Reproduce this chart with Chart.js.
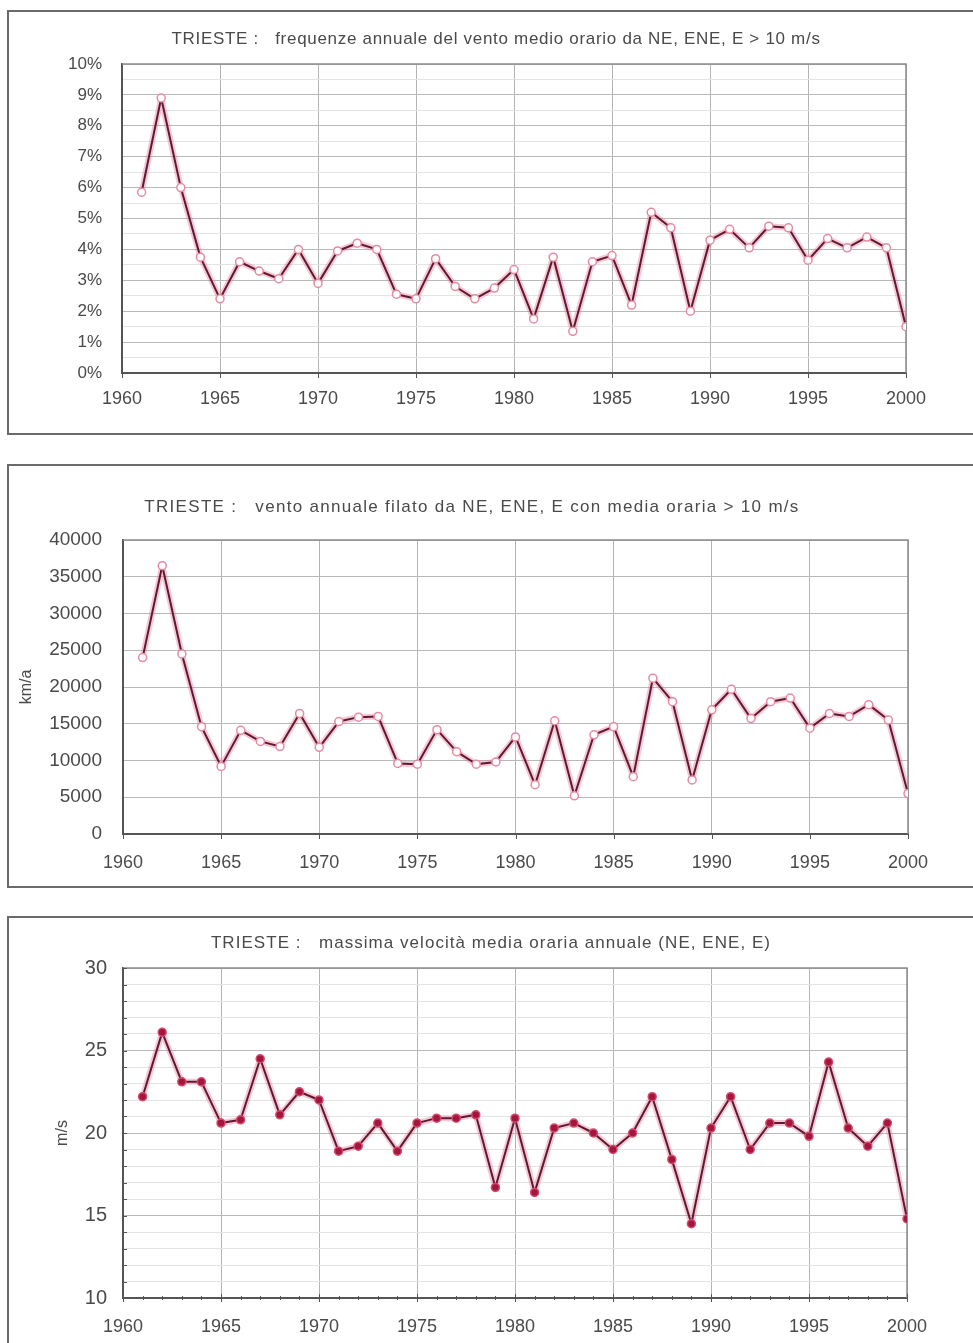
<!DOCTYPE html>
<html>
<head>
<meta charset="utf-8">
<script src="https://cdn.jsdelivr.net/npm/chart.js@4.4.1/dist/chart.umd.min.js"></script>
<style>
  html, body { margin: 0; padding: 0; background: #fff; }
  body { width: 973px; height: 1343px; position: relative; overflow: hidden; }
  .panel { position: absolute; left: 7px; width: 980px; box-sizing: border-box;
           border-top: 2px solid #6a6a6a; border-left: 2px solid #6a6a6a; border-bottom: 2px solid #6a6a6a; }
  canvas { position: absolute; left: 7px; }
</style>
</head>
<body>
<div class="panel" style="top:10px;height:425px"></div>
<div class="panel" style="top:464px;height:424px"></div>
<div class="panel" style="top:916px;height:440px"></div>
<canvas id="c1" style="top:10px"></canvas>
<canvas id="c2" style="top:465px"></canvas>
<canvas id="c3" style="top:917px"></canvas>
<script>
// Trieste, NE / ENE / E winds, yearly series 1961-2000
const years = [1961, 1962, 1963, 1964, 1965, 1966, 1967, 1968, 1969, 1970,
               1971, 1972, 1973, 1974, 1975, 1976, 1977, 1978, 1979, 1980,
               1981, 1982, 1983, 1984, 1985, 1986, 1987, 1988, 1989, 1990,
               1991, 1992, 1993, 1994, 1995, 1996, 1997, 1998, 1999, 2000];

// yearly frequency of hourly mean wind > 10 m/s (%)
const freqPct = [5.85, 8.9, 6.0, 3.75, 2.4, 3.6, 3.3, 3.05, 4.0, 2.9,
                 3.95, 4.2, 4.0, 2.55, 2.4, 3.7, 2.8, 2.4, 2.75, 3.35,
                 1.75, 3.75, 1.35, 3.6, 3.8, 2.2, 5.2, 4.7, 2.0, 4.3,
                 4.65, 4.05, 4.75, 4.7, 3.65, 4.35, 4.05, 4.4, 4.05, 1.5];

// yearly wind run with hourly mean > 10 m/s (km/a)
const windRunKm = [24000, 36500, 24500, 14600, 9200, 14100, 12600, 11900, 16400, 11800,
                   15300, 15900, 16000, 9600, 9500, 14200, 11200, 9500, 9800, 13200,
                   6700, 15400, 5200, 13500, 14600, 7800, 21200, 18000, 7350, 16900,
                   19700, 15700, 18000, 18500, 14400, 16400, 16000, 17600, 15500, 5500];

// yearly maximum hourly mean speed (m/s)
const maxSpeed = [22.2, 26.1, 23.1, 23.1, 20.6, 20.8, 24.5, 21.1, 22.5, 22.0,
                  18.9, 19.2, 20.6, 18.9, 20.6, 20.9, 20.9, 21.1, 16.7, 20.9,
                  16.4, 20.3, 20.6, 20.0, 19.0, 20.0, 22.2, 18.4, 14.5, 20.3,
                  22.2, 19.0, 20.6, 20.6, 19.8, 24.3, 20.3, 19.2, 20.6, 14.8];

const yearTicks = [1960, 1965, 1970, 1975, 1980, 1985, 1990, 1995, 2000];
const freqTicks = [0, 1, 2, 3, 4, 5, 6, 7, 8, 9, 10];
const runTicks = [0, 5000, 10000, 15000, 20000, 25000, 30000, 35000, 40000];
const speedTicks = [10, 15, 20, 25, 30];

const titles = [
  'TRIESTE :   frequenze annuale del vento medio orario da NE, ENE, E > 10 m/s',
  'TRIESTE :   vento annuale filato da NE, ENE, E con media oraria > 10 m/s',
  'TRIESTE :   massima velocità media oraria annuale (NE, ENE, E)'
];

const FONT = '"Liberation Sans", Arial, Helvetica, sans-serif';
const TEXT = '#4a4a4a';
const LINE = '#5e1a2e';
const HALO = 'rgba(232, 112, 150, 0.40)';

// heading text + plot frame + small tick marks
const decor = {
  id: 'decor',
  beforeDatasetsDraw(chart, args, o) {
    const { ctx, chartArea: a, scales } = chart;
    ctx.save();
    ctx.strokeStyle = '#8c8c8c';
    ctx.lineWidth = 1.5;
    ctx.beginPath();
    ctx.moveTo(a.left, a.top); ctx.lineTo(a.right, a.top); ctx.lineTo(a.right, a.bottom);
    ctx.stroke();
    ctx.strokeStyle = '#555';
    ctx.lineWidth = 1;
    ctx.beginPath();
    (o.xMarks || []).forEach(m => {
      const px = Math.round(scales.x.getPixelForValue(m.v)) + 0.5;
      ctx.moveTo(px, a.bottom - m.up); ctx.lineTo(px, a.bottom + m.down);
    });
    (o.yMarks || []).forEach(v => {
      const py = Math.round(scales.y.getPixelForValue(v)) + 0.5;
      ctx.moveTo(a.left, py); ctx.lineTo(a.left + 4, py);
    });
    ctx.stroke();
    ctx.restore();
  },
  afterDraw(chart, args, o) {
    const ctx = chart.ctx;
    ctx.save();
    ctx.font = o.font;
    ctx.letterSpacing = o.spacing;
    ctx.fillStyle = TEXT;
    ctx.textAlign = 'center';
    ctx.textBaseline = 'middle';
    ctx.fillText(o.text, o.x, o.y);
    ctx.restore();
  }
};

function panelChart(p) {
  const cv = document.getElementById(p.id);
  cv.width = p.w; cv.height = p.h;
  cv.style.width = p.w + 'px'; cv.style.height = p.h + 'px';
  const pts = years.map((yr, i) => ({ x: yr, y: p.values[i] }));
  const yOpts = {
    min: p.yMin, max: p.yMax,
    afterFit: s => { s.width = p.area.left; },
    ticks: {
      stepSize: p.yStep, autoSkip: false, padding: p.yPad, color: TEXT,
      font: { family: FONT, size: p.yFont },
      callback: v => (p.yLabels.includes(v) ? p.yFmt(v) : '')
    },
    grid: {
      drawTicks: false,
      color: c => (p.yLabels.includes(c.tick.value) ? '#b9b9b9' : '#e3e3e3'),
      lineWidth: 1
    },
    border: { color: '#555', width: 2 }
  };
  if (p.yTitle) {
    yOpts.title = { display: true, text: p.yTitle, color: TEXT,
                    font: { family: FONT, size: 16 }, padding: { top: p.yTitlePad, bottom: 0 } };
  }
  return new Chart(cv, {
    type: 'line',
    data: {
      datasets: [
        { data: pts, borderColor: LINE, borderWidth: 2, tension: 0, order: 0,
          borderJoinStyle: 'round',
          pointRadius: 4, pointStyle: 'circle', pointBorderWidth: 1.5,
          pointBackgroundColor: p.filled ? '#a3173d' : '#ffffff',
          pointBorderColor: p.filled ? '#d8486e' : '#e58aa2' },
        { data: pts, borderColor: HALO, borderWidth: 6, tension: 0, order: 1, pointRadius: 0,
          borderJoinStyle: 'round', borderCapStyle: 'round' }
      ]
    },
    options: {
      responsive: false, animation: false, devicePixelRatio: 1,
      layout: { padding: { top: p.area.top, right: p.w - p.area.right, left: 0, bottom: 0 } },
      plugins: {
        legend: { display: false }, tooltip: { enabled: false },
        decor: { text: p.title, x: p.titleX, y: p.titleY, font: '17px ' + FONT, spacing: p.titleSpacing,
                 xMarks: p.xMarks, yMarks: p.yMarks }
      },
      scales: {
        x: {
          type: 'linear', min: 1960, max: 2000,
          afterBuildTicks: s => { s.ticks = yearTicks.map(v => ({ value: v })); },
          afterFit: s => { s.height = p.h - p.area.bottom; },
          ticks: { autoSkip: false, padding: p.xPad, color: TEXT, maxRotation: 0,
                   font: { family: FONT, size: 18 }, callback: v => String(v) },
          grid: { drawTicks: false, color: '#b4b4b4', lineWidth: 1 },
          border: { color: '#555', width: 2 }
        },
        y: yOpts
      }
    },
    plugins: [decor]
  });
}

const fiveYearMarks = yearTicks.map(v => ({ v, up: 0, down: 5 }));

panelChart({
  id: 'c1', w: 966, h: 423, area: { left: 115, top: 54, right: 899, bottom: 363 },
  values: freqPct, yMin: 0, yMax: 10, yStep: 0.5, yLabels: freqTicks, yFmt: v => v + '%',
  yFont: 17, yPad: 20, xPad: 15, title: titles[0], titleX: 489, titleY: 29, titleSpacing: '0.7px',
  xMarks: fiveYearMarks, filled: false
});

panelChart({
  id: 'c2', w: 966, h: 422, area: { left: 116, top: 75, right: 901, bottom: 369 },
  values: windRunKm, yMin: 0, yMax: 40000, yStep: 5000, yLabels: runTicks, yFmt: v => String(v),
  yFont: 19, yPad: 21, xPad: 18, title: titles[1], titleX: 465, titleY: 42, titleSpacing: '1.3px',
  yTitle: 'km/a', yTitlePad: 10,
  xMarks: fiveYearMarks, filled: false
});

panelChart({
  id: 'c3', w: 966, h: 426, area: { left: 116, top: 51, right: 900, bottom: 381 },
  values: maxSpeed, yMin: 10, yMax: 30, yStep: 1, yLabels: speedTicks, yFmt: v => String(v),
  yFont: 20, yPad: 16, xPad: 18, title: titles[2], titleX: 484, titleY: 26, titleSpacing: '1.05px',
  yTitle: 'm/s', yTitlePad: 46,
  xMarks: [1960].concat(years).map(v => (v % 5 === 0 ? { v, up: 4, down: 4 } : { v, up: 2, down: 2 })),
  yMarks: Array.from({ length: 21 }, (_, i) => 10 + i),
  filled: true
});
</script>
</body>
</html>
